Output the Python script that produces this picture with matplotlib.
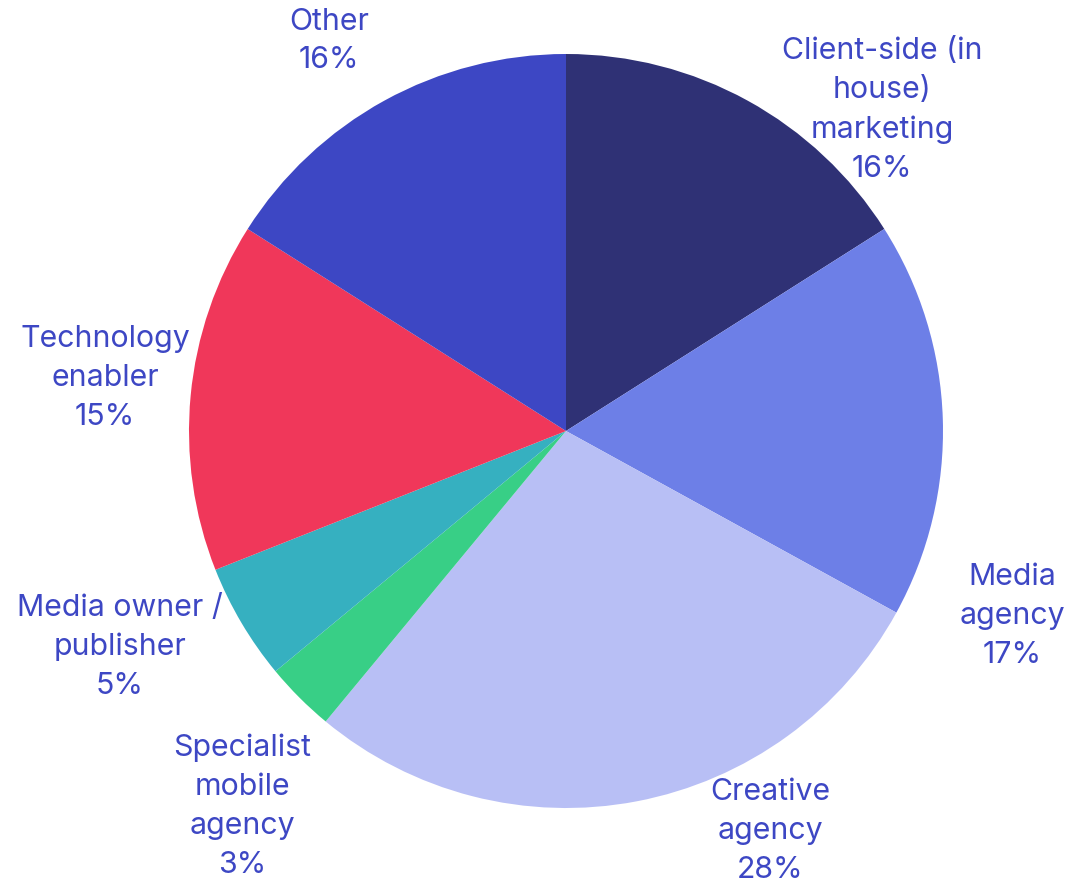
import matplotlib.pyplot as plt

# Доли по типам компаний, %
categories = ["Client-side (in\nhouse)\nmarketing", "Media\nagency", "Creative\nagency",
              "Specialist\nmobile\nagency", "Media owner /\npublisher", "Technology\nenabler", "Other"]
shares = [16, 17, 28, 3, 5, 15, 16]
colors = ["#2F3175", "#6D7FE7", "#B8BFF5", "#38CF86", "#36B0C0", "#F0375A", "#3D47C4"]

# Центры подписей (в пикселях, y сверху вниз)
label_pos = [(882, 110), (1012, 616), (770, 831), (242, 806), (120, 647), (105, 378), (329, 41)]

W, H = 1071, 889
fig = plt.figure(figsize=(W / 100, H / 100), dpi=100)
ax = fig.add_axes([0, 0, 1, 1])

ax.pie(shares, colors=colors, startangle=90, counterclock=False,
       center=(566, H - 431), radius=377, frame=True)
ax.set_xlim(0, W)
ax.set_ylim(0, H)
ax.axis("off")

for name, val, (x, y) in zip(categories, shares, label_pos):
    ax.text(x, H - y, f"{name}\n{val}%", ha="center", va="center", color="#3D47C4",
            fontsize=21.8, family="Inter", linespacing=1.5)

fig.savefig("out.png", dpi=100)
